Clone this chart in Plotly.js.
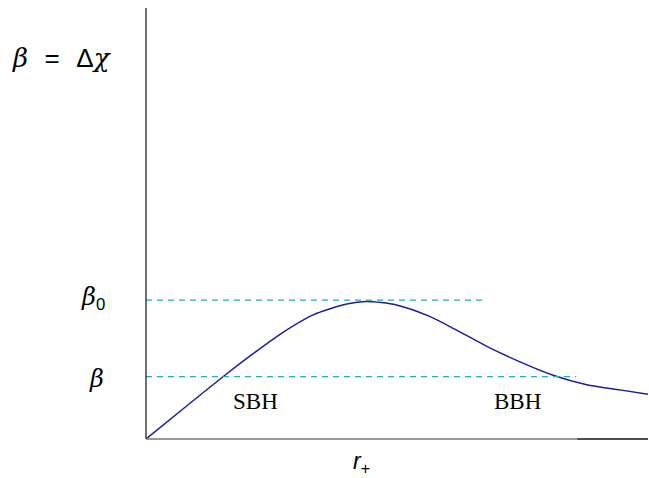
<!DOCTYPE html>
<html>
<head>
<meta charset="utf-8">
<script src="https://cdn.plot.ly/plotly-3.0.1.min.js"></script>
<style>html,body{margin:0;padding:0;background:#fff;}#chart{width:649px;height:478px;}</style>
</head>
<body>
<div id="chart"></div>
<script>
// Curve beta(r+) (arbitrary units)
const rPlus = [0, 0.76, 1.54, 2.10, 2.67, 3.33, 4.00, 4.40, 4.99, 5.66, 6.15, 6.79, 7.45, 8.11, 8.78, 9.44, 10.0];
const betaVals = [0, 0.72, 1.45, 1.95, 2.43, 2.88, 3.13, 3.19, 3.11, 2.84, 2.55, 2.15, 1.79, 1.48, 1.26, 1.14, 1.04];
// Horizontal reference levels
const beta0Level = 3.22;
const beta0End = 6.77;
const betaLevel = 1.445;
const betaEnd = 8.57;
// Region labels
const regionLabels = ["SBH", "BBH"];
const regionX = [2.18, 7.40];
const regionY = [0.87, 0.87];

const traces = [
  {x: rPlus, y: betaVals, mode: 'lines', line: {color: '#1c1ca0', width: 1.5, shape: 'spline', smoothing: 0.7}, hoverinfo: 'skip'},
  {x: [0, beta0End], y: [beta0Level, beta0Level], mode: 'lines', line: {color: '#22b0b8', width: 1.2, dash: '6px,5px'}, hoverinfo: 'skip'},
  {x: [0, betaEnd], y: [betaLevel, betaLevel], mode: 'lines', line: {color: '#22b0b8', width: 1.2, dash: '6px,5px'}, hoverinfo: 'skip'}
];

const annotations = regionLabels.map((t, i) => ({
  x: regionX[i], y: regionY[i], xref: 'x', yref: 'y', text: t, showarrow: false,
  xanchor: 'center', yanchor: 'middle',
  font: {family: 'Liberation Serif, Times New Roman, serif', size: 23, color: '#000'}
}));
const sans = '<span style="font-family:Liberation Sans">';
annotations.push(
  {x: -0.167, y: 0.884, xref: 'paper', yref: 'paper', xanchor: 'center', yanchor: 'middle',
   text: '<i>β</i>&nbsp; ' + sans + '=</span> &nbsp;' + sans + 'Δ</span><i>χ</i>', showarrow: false,
   font: {family: 'DejaVu Serif, serif', size: 26, color: '#000'}},
  {x: -0.105, y: 0.325, xref: 'paper', yref: 'paper', xanchor: 'center', yanchor: 'middle',
   text: '<i>β</i><sub>' + sans + '0</span></sub>', showarrow: false,
   font: {family: 'DejaVu Serif, serif', size: 24, color: '#000'}},
  {x: -0.098, y: 0.14, xref: 'paper', yref: 'paper', xanchor: 'center', yanchor: 'middle',
   text: '<i>β</i>', showarrow: false,
   font: {family: 'DejaVu Serif, serif', size: 24, color: '#000'}},
  {x: 0.43, y: -0.055, xref: 'paper', yref: 'paper', xanchor: 'center', yanchor: 'middle',
   text: '<i>r</i><sub>+</sub>', showarrow: false,
   font: {family: 'Liberation Sans, Arial, sans-serif', size: 23, color: '#000'}}
);

const layout = {
  width: 649, height: 478,
  margin: {l: 146, r: 1, t: 8, b: 39, pad: 0},
  paper_bgcolor: '#fff', plot_bgcolor: '#fff',
  showlegend: false,
  xaxis: {range: [0, 10], showgrid: false, zeroline: false, showticklabels: false, ticks: '', showline: false, fixedrange: true},
  yaxis: {range: [0, 10], showgrid: false, zeroline: false, showticklabels: false, ticks: '', showline: false, fixedrange: true},
  annotations: annotations,
  shapes: [
    {type: 'line', xref: 'paper', yref: 'paper', x0: 0, x1: 0, y0: 0, y1: 1, line: {color: '#111', width: 1.2}},
    {type: 'line', xref: 'paper', yref: 'paper', x0: 0, x1: 0.859, y0: 0, y1: 0, line: {color: '#777', width: 1.5}},
    {type: 'line', xref: 'paper', yref: 'paper', x0: 0.859, x1: 1, y0: 0, y1: 0, line: {color: '#111', width: 1.5}}
  ]
};

Plotly.newPlot('chart', traces, layout, {displayModeBar: false, staticPlot: true});
</script>
</body>
</html>
